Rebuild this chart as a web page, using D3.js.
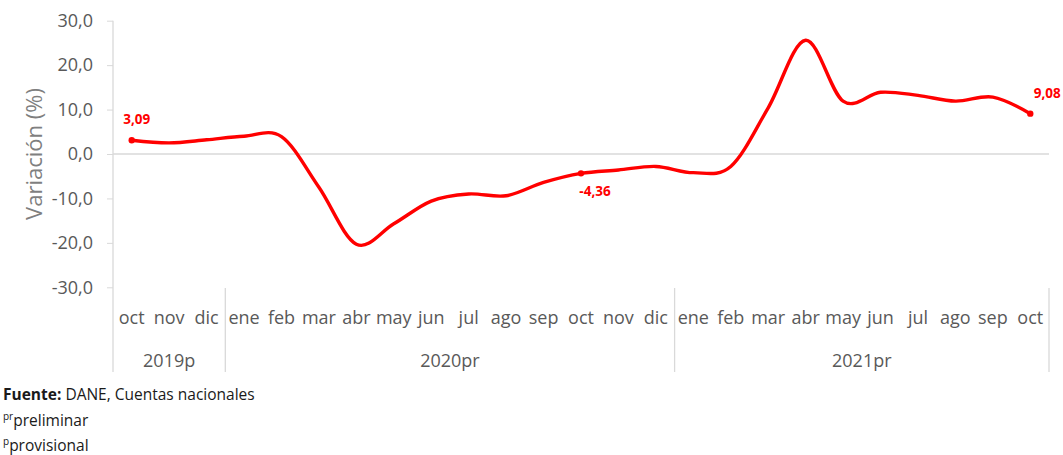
<!DOCTYPE html>
<html>
<head>
<meta charset="utf-8">
<script src="https://cdn.jsdelivr.net/npm/d3@7"></script>
<style>
  html, body { margin: 0; padding: 0; background: #ffffff; }
  svg { display: block; }
  text { font-family: "Open Sans", "Noto Sans", sans-serif; }
</style>
</head>
<body>
<svg id="chart" width="1063" height="455"></svg>
<script>
// ---- data ----
const months = ["oct","nov","dic",
  "ene","feb","mar","abr","may","jun","jul","ago","sep","oct","nov","dic",
  "ene","feb","mar","abr","may","jun","jul","ago","sep","oct"];
const values = [3.09, 2.5, 3.2,
  4.0, 3.9, -7.5, -20.3, -15.7, -10.6, -9.0, -9.4, -6.4, -4.36, -3.6, -2.8,
  -4.2, -2.8, 10.4, 25.6, 11.9, 13.9, 13.2, 11.9, 12.8, 9.08];
const yearLabels = ["2019p", "2020pr", "2021pr"];
const yearCounts = [3, 12, 10];
const labeledIdx = [0, 12, 24];
const labelTexts = ["3,09", "-4,36", "9,08"];
const yTicks = [30, 20, 10, 0, -10, -20, -30];

// ---- layout ----
const svg = d3.select("#chart");
const x0 = 113, x1 = 1049;
const yTop = 20.7, yBot = 287.3;

const x = d3.scaleBand().domain(d3.range(months.length)).range([x0, x1]).padding(0);
const y = d3.scaleLinear().domain([-30, 30]).range([yBot, yTop]);
const fmt = v => d3.format(".1f")(v).replace(".", ",").replace("−", "-");

const axisColor = "#d9d9d9";
const textColor = "#595959";

// y axis
const yAxis = svg.append("g").attr("transform", `translate(${x0},0)`)
  .call(d3.axisLeft(y).tickValues(yTicks).tickSize(6).tickPadding(14).tickFormat(fmt));
yAxis.select(".domain").remove();
yAxis.selectAll(".tick line").attr("stroke", axisColor);
yAxis.selectAll(".tick text").attr("fill", textColor).style("font-size", "18px");

// vertical axis line (extends into category area)
svg.append("line").attr("x1", x0).attr("x2", x0).attr("y1", yTop).attr("y2", 372)
  .attr("stroke", axisColor).attr("stroke-width", 1.3);

// zero line
svg.append("line").attr("x1", x0).attr("x2", x1).attr("y1", y(0)).attr("y2", y(0))
  .attr("stroke", axisColor).attr("stroke-width", 1.5);

// year separators
let cum = 0;
const sepIdx = [];
yearCounts.forEach(c => { cum += c; sepIdx.push(cum); });
sepIdx.forEach(i => {
  const xs = i < months.length ? x(i) : x1;
  svg.append("line").attr("x1", xs).attr("x2", xs).attr("y1", 288).attr("y2", 372)
    .attr("stroke", axisColor).attr("stroke-width", 1.3);
});

// month labels
svg.append("g").selectAll("text").data(months).join("text")
  .attr("x", (d, i) => x(i) + x.bandwidth() / 2)
  .attr("y", 324)
  .attr("text-anchor", "middle")
  .attr("fill", textColor)
  .style("font-size", "18px")
  .text(d => d);

// year labels
let start = 0;
yearLabels.forEach((lab, k) => {
  const a = x(start);
  const endI = start + yearCounts[k];
  const b = endI < months.length ? x(endI) : x1;
  svg.append("text").attr("x", (a + b) / 2).attr("y", 367)
    .attr("text-anchor", "middle").attr("fill", textColor)
    .style("font-size", "18px").text(lab);
  start = endI;
});

// y title
svg.append("text")
  .attr("transform", `translate(42,${(yTop + yBot) / 2}) rotate(-90)`)
  .attr("text-anchor", "middle")
  .attr("fill", "#7f7f7f")
  .style("font-size", "22px")
  .text("Variación (%)");

// line
const line = d3.line()
  .x((d, i) => x(i) + x.bandwidth() / 2)
  .y(d => y(d))
  .curve(d3.curveCardinal.tension(0));
svg.append("path").datum(values)
  .attr("d", line)
  .attr("fill", "none")
  .attr("stroke", "#ff0000")
  .attr("stroke-width", 3.4)
  .attr("stroke-linejoin", "round");

// markers
svg.append("g").selectAll("circle").data(labeledIdx).join("circle")
  .attr("cx", i => x(i) + x.bandwidth() / 2)
  .attr("cy", i => y(values[i]))
  .attr("r", 3.2)
  .attr("fill", "#ff0000");

// data labels
const labelOffsets = [[5, -16], [14, 23], [17, -16]];
svg.append("g").selectAll("text").data(labeledIdx).join("text")
  .attr("x", (i, k) => x(i) + x.bandwidth() / 2 + labelOffsets[k][0])
  .attr("y", (i, k) => y(values[i]) + labelOffsets[k][1])
  .attr("text-anchor", "middle")
  .attr("fill", "#ff0000")
  .style("font-size", "13.5px")
  .style("font-weight", "bold")
  .text((i, k) => labelTexts[k]);

// footnotes
const fn = svg.append("g").attr("fill", "#1a1a1a").style("font-size", "15.5px");
const t1 = fn.append("text").attr("x", 3).attr("y", 400);
t1.append("tspan").style("font-weight", "bold").text("Fuente:");
t1.append("tspan").text(" DANE, Cuentas nacionales");
const t2 = fn.append("text").attr("x", 3).attr("y", 426);
t2.append("tspan").style("font-size", "10px").attr("dy", -6).text("pr");
t2.append("tspan").attr("dy", 6).text("preliminar");
const t3 = fn.append("text").attr("x", 3).attr("y", 451);
t3.append("tspan").style("font-size", "10px").attr("dy", -6).text("p");
t3.append("tspan").attr("dy", 6).text("provisional");
</script>
</body>
</html>
